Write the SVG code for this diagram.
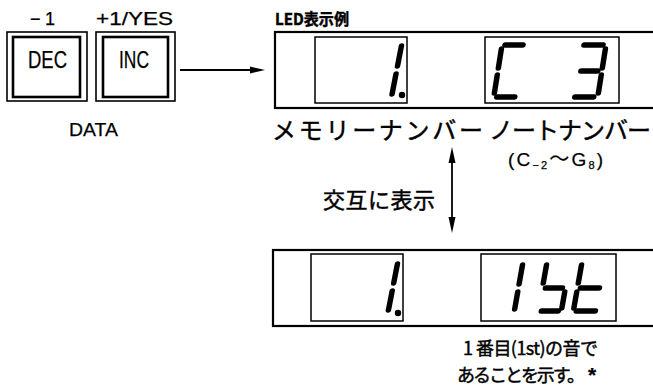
<svg xmlns="http://www.w3.org/2000/svg" width="653" height="386" viewBox="0 0 653 386">
<defs>
<style>
.t{font-family:"Liberation Sans","Noto Sans CJK JP",sans-serif;fill:#000;stroke:#000;stroke-width:0.25}
.jp{font-family:"Noto Sans CJK JP","Liberation Sans",sans-serif;fill:#000;stroke:#000;stroke-width:0.45}
.ob{fill:#fff;stroke:#000;stroke-width:1.6}
.ib{fill:#fff;stroke:#000;stroke-width:2.6}
.panel{fill:#fff;stroke:#000;stroke-width:2.2}
.win{fill:none;stroke:#000;stroke-width:1.5}
.seg{stroke:#000;stroke-width:5.5;stroke-linecap:round;fill:none}
.ln{stroke:#000;stroke-width:1.8;fill:none}
</style>
</defs>
<rect width="653" height="386" fill="#fff"/>

<g id="btn-dec">
<text class="t" x="30" y="25" font-size="18" textLength="25" lengthAdjust="spacing">−1</text>
<rect class="ob" x="7" y="32" width="80" height="69"/>
<rect class="ib" x="13" y="37" width="67" height="60"/>
<text class="t" x="28" y="68" font-size="23" textLength="39" lengthAdjust="spacingAndGlyphs">DEC</text>
</g>
<g id="btn-inc">
<text class="t" x="96" y="25" font-size="18" textLength="77" lengthAdjust="spacingAndGlyphs">+1/YES</text>
<rect class="ob" x="96" y="32" width="79" height="69"/>
<rect class="ib" x="103" y="37" width="65" height="60"/>
<text class="t" x="119" y="68" font-size="23" textLength="30" lengthAdjust="spacingAndGlyphs">INC</text>
</g>
<g id="label-data">
<text class="t" x="69" y="136" font-size="19" textLength="49" lengthAdjust="spacingAndGlyphs">DATA</text>
</g>

<g id="led-top">
<text class="jp" x="275" y="25" font-size="16" font-weight="bold" textLength="74" lengthAdjust="spacingAndGlyphs">LED表示例</text>
<rect class="panel" x="275" y="32" width="400" height="76"/>
<rect class="win" x="315" y="37" width="92" height="66"/>
<rect class="win" x="485" y="37" width="134" height="66"/>
<g transform="translate(380,43) skewX(-11)">
<line class="seg" x1="22" y1="3" x2="22" y2="23"/>
<line class="seg" x1="22" y1="31" x2="22" y2="51"/>
</g>
<circle cx="402" cy="95" r="3.2"/>
<g transform="translate(502,45) skewX(-9)">
<line class="seg" x1="3" y1="0" x2="21" y2="0"/>
<line class="seg" x1="0" y1="4" x2="0" y2="23"/>
<line class="seg" x1="0" y1="30" x2="0" y2="48"/>
<line class="seg" x1="3" y1="52" x2="21" y2="52"/>
</g>
<g transform="translate(581,45) skewX(-9)">
<line class="seg" x1="3" y1="0" x2="22" y2="0"/>
<line class="seg" x1="25" y1="4" x2="25" y2="23"/>
<line class="seg" x1="4" y1="26" x2="21" y2="26"/>
<line class="seg" x1="25" y1="30" x2="25" y2="48"/>
<line class="seg" x1="2" y1="52" x2="21" y2="52"/>
</g>
<text class="jp" x="272" y="139" font-size="24" textLength="211" lengthAdjust="spacing">メモリーナンバー</text>
<text class="jp" x="489" y="139" font-size="24" textLength="162" lengthAdjust="spacing">ノートナンバー</text>
<text class="t" x="508" y="166" font-size="19" textLength="95" lengthAdjust="spacing">(C<tspan font-size="11" dy="3">−2</tspan><tspan dy="-3" font-size="20">～</tspan>G<tspan font-size="11" dy="3">8</tspan><tspan dy="-3">)</tspan></text>
</g>

<g id="label-alt">
<text class="jp" x="323" y="208" font-size="22" textLength="112" lengthAdjust="spacing">交互に表示</text>
</g>

<g id="led-bottom">
<rect class="panel" x="273" y="250" width="400" height="76"/>
<rect class="win" x="311" y="254" width="92" height="67"/>
<rect class="win" x="481" y="254" width="135" height="67"/>
<g transform="translate(376,261) skewX(-11)">
<line class="seg" x1="22" y1="3" x2="22" y2="22"/>
<line class="seg" x1="22" y1="30" x2="22" y2="49"/>
</g>
<circle cx="398" cy="313" r="3.2"/>
<g transform="translate(501,262) skewX(-10)">
<line class="seg" x1="22" y1="3" x2="22" y2="22"/>
<line class="seg" x1="22" y1="30" x2="22" y2="47"/>
</g>
<g transform="translate(547,262) skewX(-10)">
<line class="seg" x1="0" y1="3" x2="0" y2="21"/>
<line class="seg" x1="3" y1="26" x2="20" y2="26"/>
<line class="seg" x1="23" y1="30" x2="23" y2="46"/>
<line class="seg" x1="3" y1="49" x2="20" y2="49"/>
</g>
<g transform="translate(582,262) skewX(-10)">
<line class="seg" x1="0" y1="3" x2="0" y2="21"/>
<line class="seg" x1="3" y1="26" x2="22" y2="26"/>
<line class="seg" x1="0" y1="30" x2="0" y2="46"/>
<line class="seg" x1="3" y1="49" x2="22" y2="49"/>
</g>
<text class="jp" x="463" y="355" font-size="18" textLength="135" lengthAdjust="spacing">1 番目(1st)の音で</text>
<text class="jp" x="457" y="382" font-size="18" textLength="128" lengthAdjust="spacing">あることを示す。</text>
<text class="t" x="588" y="382" font-size="21" font-weight="bold">*</text>
</g>

<g id="connectors">
<line class="ln" x1="180" y1="70" x2="253" y2="70"/>
<polygon points="265,70 250,66.5 250,73.5"/>
<line class="ln" x1="452" y1="158" x2="452" y2="222"/>
<polygon points="452,147 448.5,163 455.5,163"/>
<polygon points="452,233 448.5,217 455.5,217"/>
</g>
</svg>
